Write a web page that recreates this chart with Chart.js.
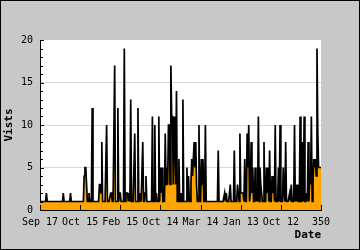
<!DOCTYPE html>
<html>
<head>
<meta charset="utf-8">
<script src="https://cdn.jsdelivr.net/npm/chart.js@4/dist/chart.umd.min.js"></script>
<style>
  html, body { margin: 0; padding: 0; background: #c8c8c8; }
  canvas { display: block; }
</style>
</head>
<body>
<canvas id="c" width="360" height="250"></canvas>
<script>
// ---- data ----
const xTickLabels = ["Sep 17", "Oct 15", "Feb 15", "Oct 14", "Mar 14", "Jan 13", "Oct 12", "350"];
const yTickValues = [0, 5, 10, 15, 20];
const visits = [
  1,1,1,1,1,1,1,1,2,1,
  1,1,1,1,1,1,1,1,1,1,
  1,1,1,1,1,1,1,1,1,2,
  1,1,1,1,1,1,1,1,2,1,
  1,1,1,1,1,1,1,1,1,1,
  1,1,1,1,1,4,5,5,3,1,
  1,2,1,1,1,12,1,1,1,1,
  1,1,1,1,3,3,2,8,1,1,
  1,1,1,10,1,1,1,1,2,2,
  1,1,1,17,1,1,1,12,1,2,
  2,1,1,1,1,19,1,2,2,2,
  1,2,1,13,1,1,1,1,9,1,
  1,1,12,1,1,2,1,1,8,1,
  1,2,4,1,1,1,1,1,1,1,
  11,1,1,10,1,2,1,1,11,1,
  5,2,5,1,1,1,9,3,5,3,
  10,10,3,17,11,11,3,11,8,3,
  14,1,1,6,1,1,2,1,13,1,
  1,1,1,5,1,4,1,1,3,6,
  4,6,8,5,8,3,1,1,10,1,
  1,6,3,6,1,1,10,1,1,1,
  1,1,1,1,1,1,1,1,1,1,
  1,1,7,1,1,1,1,1,1,1,
  2,1,2,1,1,1,2,3,1,1,
  1,1,7,1,1,1,3,2,1,9,
  2,2,2,2,1,6,1,1,9,5,
  10,1,2,8,2,5,1,1,5,1,
  2,1,11,1,5,3,2,1,1,8,
  1,1,5,2,5,1,7,1,1,4,
  2,4,1,10,1,1,1,5,1,10,
  1,1,1,5,2,1,8,1,1,1,
  1,2,1,3,1,1,1,10,1,3,
  1,3,1,1,11,1,1,8,1,11,
  1,1,2,1,8,1,4,3,11,1,
  3,6,5,6,4,19,9,5,5,5,
  5
];
const xStep = 50;
const xMax = 350;
const yMax = 20;

const points = visits.map((v, i) => ({ x: i, y: v }));

const frame = {
  id: 'frame',
  beforeDraw(chart) {
    const { ctx, chartArea: a } = chart;
    ctx.save();
    ctx.fillStyle = '#c8c8c8';
    ctx.fillRect(0, 0, chart.width, chart.height);
    ctx.fillStyle = '#ffffff';
    ctx.fillRect(a.left, a.top, a.right - a.left, a.bottom - a.top);
    ctx.restore();
  },
  afterDatasetsDraw(chart) {
    const { ctx, chartArea: a, scales } = chart;
    ctx.save();
    ctx.strokeStyle = '#000';
    ctx.lineWidth = 1;
    ctx.beginPath();
    for (let v = 0; v <= yMax; v++) {
      const y = Math.round(scales.y.getPixelForValue(v)) + 0.5;
      const len = (v % 5 === 0) ? 4 : 3;
      ctx.moveTo(a.left, y);
      ctx.lineTo(a.left + len, y);
    }
    for (let v = 0; v <= xMax; v += xStep) {
      const x = Math.round(scales.x.getPixelForValue(v)) + 0.5;
      ctx.moveTo(x, a.bottom);
      ctx.lineTo(x, a.bottom - 5);
    }
    ctx.stroke();
    ctx.restore();
  },
  afterDraw(chart) {
    const { ctx } = chart;
    ctx.save();
    ctx.strokeStyle = '#000';
    ctx.lineWidth = 1;
    ctx.strokeRect(0.5, 0.5, chart.width - 1, chart.height - 1);
    ctx.restore();
  }
};

new Chart(document.getElementById('c'), {
  type: 'line',
  data: {
    datasets: [{
      data: points,
      borderColor: '#000000',
      borderWidth: 1.7,
      borderJoinStyle: 'miter',
      backgroundColor: '#ffa500',
      fill: 'origin',
      pointRadius: 0,
      tension: 0
    }]
  },
  options: {
    responsive: false,
    devicePixelRatio: 1,
    animation: false,
    events: [],
    layout: { padding: { top: 40, left: 0, right: 39, bottom: 0 } },
    plugins: { legend: { display: false }, tooltip: { enabled: false } },
    scales: {
      x: {
        type: 'linear',
        min: 0,
        max: xMax,
        afterFit(s) { s.height = 40; },
        afterBuildTicks(s) {
          s.ticks = xTickLabels.map((_, i) => ({ value: i * xStep }));
        },
        ticks: {
          autoSkip: false,
          maxRotation: 0,
          padding: 6,
          color: '#000',
          font: { family: 'DejaVu Sans Mono', size: 10 },
          callback: (v) => xTickLabels[Math.round(v / xStep)]
        },
        grid: { display: true, drawOnChartArea: false, drawTicks: false },
        border: { display: true, color: '#000', width: 1 },
        title: {
          display: true,
          text: 'Date',
          align: 'end',
          color: '#000',
          font: { family: 'DejaVu Sans Mono', size: 11, weight: 'bold' },
          padding: { top: 0, bottom: 8 }
        }
      },
      y: {
        type: 'linear',
        min: 0,
        max: yMax,
        afterFit(s) { s.width = 40; },
        afterBuildTicks(s) {
          s.ticks = yTickValues.map(v => ({ value: v }));
        },
        ticks: {
          padding: 7,
          color: '#000',
          font: { family: 'DejaVu Sans Mono', size: 10 }
        },
        grid: {
          drawTicks: false,
          color: (c) => (c.tick && (c.tick.value === 0 || c.tick.value === yMax)) ? 'rgba(0,0,0,0)' : '#d8d8d8'
        },
        border: { display: true, color: '#000', width: 1 },
        title: {
          display: true,
          text: 'Vists',
          color: '#000',
          font: { family: 'DejaVu Sans Mono', size: 11, weight: 'bold' },
          padding: { top: 3, bottom: 0 }
        }
      }
    }
  },
  plugins: [frame]
});
</script>
</body>
</html>
